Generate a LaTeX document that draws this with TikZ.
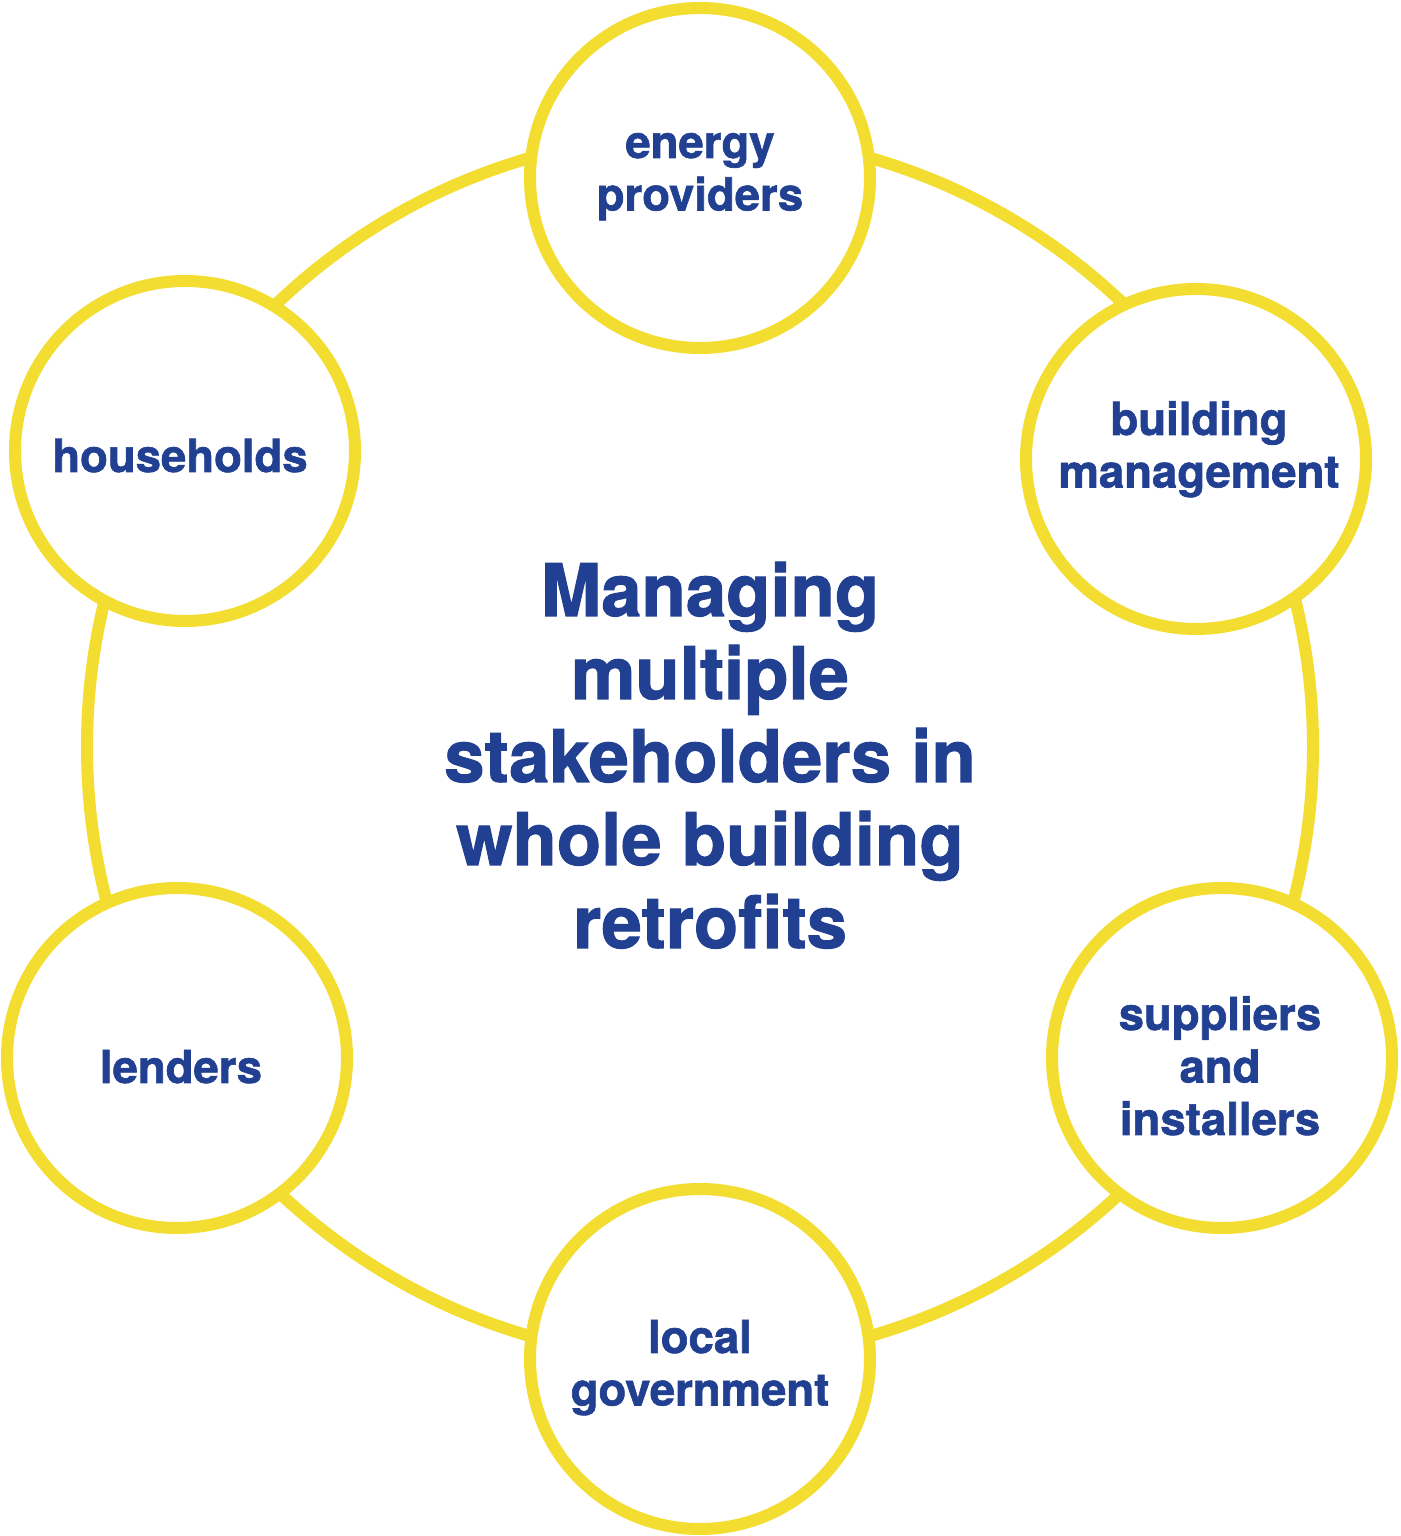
\documentclass[tikz,border=0pt]{standalone}
\usepackage{fontspec}
\setmainfont{TeX Gyre Heros}[BoldFeatures={FakeBold=1.4}]
\definecolor{ringyellow}{RGB}{242,221,48}
\definecolor{textblue}{RGB}{34,64,145}
\begin{document}
\begin{tikzpicture}[x=1pt,y=1pt,
  hub/.style={circle,draw=ringyellow,fill=white,line width=12pt,minimum size=340pt,inner sep=0pt},
  lbl/.style={anchor=north,align=center,inner sep=0pt,outer sep=0pt,text=textblue,
    font=\fontsize{45.5}{52.5}\selectfont\bfseries},
  title/.style={anchor=north,align=center,inner sep=0pt,outer sep=0pt,text=textblue,
    font=\fontsize{72.5}{83}\selectfont\bfseries}]
\useasboundingbox (0,0) rectangle (1400,1536);
\fill[white] (0,0) rectangle (1400,1536);
% ring
\coordinate (ringc) at (700,789);
\draw[ringyellow,line width=12pt] (ringc) circle (613);
% stakeholder circles
\node[hub] (ep) at (700,1358) {};
\node[hub] (bm) at (1196,1077) {};
\node[hub] (si) at (1222,478) {};
\node[hub] (lg) at (700,177) {};
\node[hub] (le) at (177,478) {};
\node[hub] (hh) at (185,1085) {};
% labels
\node[lbl] (ept) at (700,1414.75) {\strut energy\\\strut providers};
\node[lbl] (bmt) at (1199,1137.75) {\strut building\\\strut management};
\node[lbl] (sit) at (1220,542.75) {\strut suppliers\\\strut and\\\strut installers};
\node[lbl] (lgt) at (700,219.75) {\strut local\\\strut government};
\node[lbl] (let) at (181,489.75) {\strut lenders};
\node[lbl] (hht) at (180,1100.75) {\strut households};
% title
\node[title] (ttl) at (710,978.1) {\strut Managing\\\strut multiple\\\strut stakeholders in\\\strut whole building\\\strut retrofits};
\end{tikzpicture}
\end{document}
